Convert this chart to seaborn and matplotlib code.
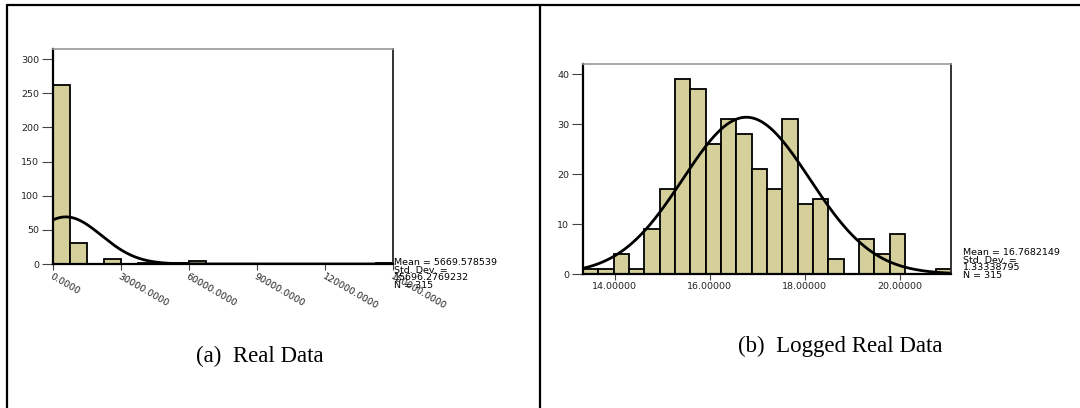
import numpy as np
import pandas as pd
import matplotlib
matplotlib.use("Agg")
import matplotlib.pyplot as plt
from matplotlib.lines import Line2D
import seaborn as sns

# ---------------- data ----------------
# (a) Real Data: 20 bins of width 7500 from 0 to 150000
bins_a_start = 0.0
bins_a_width = 7500.0
counts_a = [262, 31, 0, 7, 0, 2, 0, 2, 5, 0, 0, 0, 0, 0, 0, 0, 0, 0, 0, 1]
xticks_a = [0, 30000, 60000, 90000, 120000, 150000]
xticklabels_a = ["0.0000", "30000.0000", "60000.0000", "90000.0000",
                 "120000.0000", "150000.0000"]
yticks_a = [0, 50, 100, 150, 200, 250, 300]
mean_a, sd_a, n_a = 5669.578539, 15696.2769232, 315
curve_peak_a = 69.0
stats_a = "Mean = 5669.578539\nStd. Dev. =\n15696.2769232\nN = 315"

# (b) Logged Real Data: 24 bins
bins_b_start = 13.333
bins_b_width = 0.3225
counts_b = [1, 1, 4, 1, 9, 17, 39, 37, 26, 31, 28, 21, 17, 31, 14, 15, 3, 0,
            7, 4, 8, 0, 0, 1]
xticks_b = [14, 16, 18, 20]
xticklabels_b = ["14.00000", "16.00000", "18.00000", "20.00000"]
yticks_b = [0, 10, 20, 30, 40]
mean_b, sd_b, n_b = 16.7682149, 1.33338795, 315
curve_peak_b = 31.4
stats_b = "Mean = 16.7682149\nStd. Dev. =\n1.33338795\nN = 315"

captions = ["(a)  Real Data", "(b)  Logged Real Data"]

# ---------------- style ----------------
sns.set_theme(style="white")
plt.rcParams["font.family"] = ["DejaVu Sans"]
BAR = "#D5D09B"
W, H = 1080, 408
TICK_FS = 6.8
STAT_FS = 6.8

fig = plt.figure(figsize=(W / 100, H / 100), dpi=100)


def fx(px):
    return px / W


def fy(py):
    return 1 - py / H


def panel(rect, start, width, counts, xticks, xticklabels, yticks, ylim,
          mean, sd, peak, stats, rot, stats_xy):
    l, t, r, b = rect
    ax = fig.add_axes([fx(l), fy(b), fx(r) - fx(l), fy(t) - fy(b)])
    nb = len(counts)
    edges = start + width * np.arange(nb + 1)
    centers = (edges[:-1] + edges[1:]) / 2
    df = pd.DataFrame({"x": centers, "w": np.asarray(counts, dtype=float)})
    sns.histplot(data=df, x="x", weights="w", bins=edges.tolist(), ax=ax,
                 color=BAR, edgecolor="black", linewidth=1.3, alpha=1.0)
    xs = np.linspace(edges[0], edges[-1], 600)
    ys = peak * np.exp(-0.5 * ((xs - mean) / sd) ** 2)
    sns.lineplot(x=xs, y=ys, ax=ax, color="black", linewidth=2.0)
    ax.set_xlim(edges[0], edges[-1])
    ax.set_ylim(*ylim)
    ax.set_xlabel("")
    ax.set_ylabel("")
    ax.set_yticks(yticks)
    ax.set_yticklabels([str(v) for v in yticks], fontsize=TICK_FS,
                       color="#222222")
    ax.set_xticks(xticks)
    if rot:
        ax.set_xticklabels(xticklabels, fontsize=TICK_FS, color="#222222",
                           rotation=-30, ha="left", va="top",
                           rotation_mode="anchor")
    else:
        ax.set_xticklabels(xticklabels, fontsize=TICK_FS, color="#222222")
    ax.tick_params(axis="y", direction="out", length=8, width=0.8,
                   color="#444444", pad=2, left=True)
    ax.tick_params(axis="x", direction="out", length=4, width=0.8,
                   color="#444444", pad=2, bottom=True)
    for s in ["left", "bottom"]:
        ax.spines[s].set_color("black")
        ax.spines[s].set_linewidth(1.6)
    ax.spines["top"].set_color("#9a9a9a")
    ax.spines["top"].set_linewidth(1.2)
    ax.spines["right"].set_color("#333333")
    ax.spines["right"].set_linewidth(1.4)
    ax.grid(False)
    fig.text(fx(stats_xy[0]), fy(stats_xy[1]), stats, fontsize=STAT_FS,
             linespacing=0.82, ha="left", va="top", color="black")
    return ax


panel((53, 49, 393, 264), bins_a_start, bins_a_width, counts_a, xticks_a,
      xticklabels_a, yticks_a, (0, 315), mean_a, sd_a, curve_peak_a, stats_a,
      True, (394, 258))
panel((583, 64, 951, 274), bins_b_start, bins_b_width, counts_b, xticks_b,
      xticklabels_b, yticks_b, (0, 42.06), mean_b, sd_b, curve_peak_b, stats_b,
      False, (963, 248))

# captions
fig.text(fx(260), fy(356), captions[0], fontsize=16.5,
         family="Liberation Serif", ha="center", va="center", color="black")
fig.text(fx(840), fy(346), captions[1], fontsize=16.5,
         family="Liberation Serif", ha="center", va="center", color="black")

# table border lines
lw = 1.6
fig.add_artist(Line2D([fx(7), 1.0], [fy(5), fy(5)], color="black", lw=lw))
fig.add_artist(Line2D([fx(7), fx(7)], [fy(5), 0.0], color="black", lw=lw))
fig.add_artist(Line2D([fx(540), fx(540)], [fy(5), 0.0], color="black", lw=lw))

fig.savefig("out.png", dpi=100)
